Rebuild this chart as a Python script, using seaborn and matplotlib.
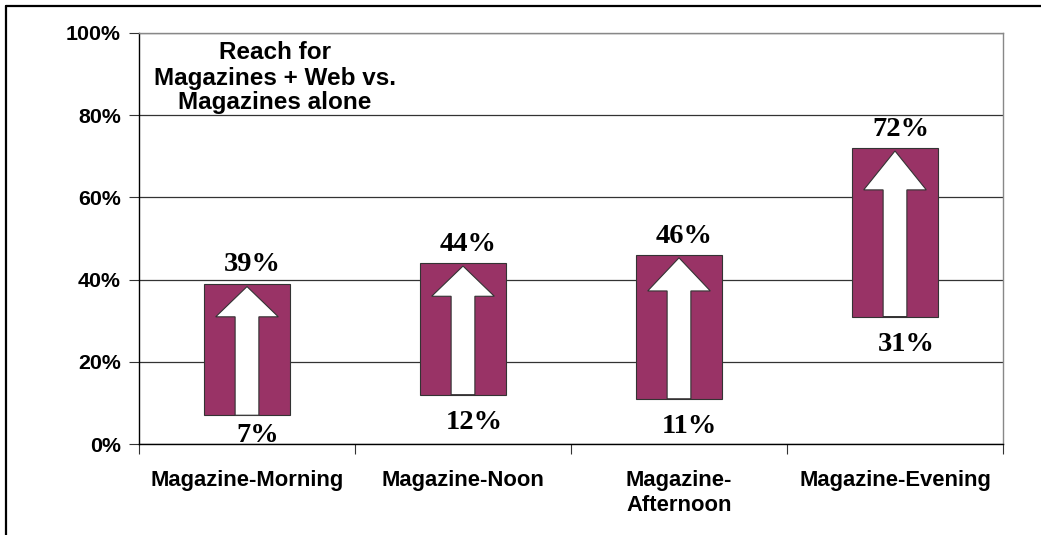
import numpy as np
import pandas as pd
import matplotlib
matplotlib.use("Agg")
import matplotlib.pyplot as plt
import seaborn as sns
from matplotlib.patches import FancyArrow
from matplotlib.lines import Line2D

categories = ["Magazine-Morning", "Magazine-Noon", "Magazine-\nAfternoon", "Magazine-Evening"]
magazines_alone = [7, 12, 11, 31]
magazines_plus_web = [39, 44, 46, 72]
y_ticks = [0, 20, 40, 60, 80, 100]
y_tick_labels = ["0%", "20%", "40%", "60%", "80%", "100%"]
title_lines = ["Reach for", "Magazines + Web vs.", "Magazines alone"]

sns.set_theme(style="white")
plt.rcParams["font.family"] = ["Liberation Sans", "DejaVu Sans"]
plt.rcParams["text.color"] = "black"
plt.rcParams["xtick.color"] = "black"
plt.rcParams["ytick.color"] = "black"
plt.rcParams["xtick.labelcolor"] = "black"
plt.rcParams["ytick.labelcolor"] = "black"

df = pd.DataFrame({"category": categories, "low": magazines_alone, "high": magazines_plus_web})
df["gain"] = df["high"] - df["low"]

W, H = 1041, 535
fig = plt.figure(figsize=(W / 100, H / 100), dpi=100)
ax = fig.add_axes([139 / W, 1 - 444 / H, (1003 - 139) / W, (444 - 33) / H])

sns.barplot(data=df, x="category", y="gain", order=categories,
            bottom=df["low"].to_numpy(), color="#993366", saturation=1,
            width=0.4, edgecolor="#333333", linewidth=0.8, ax=ax, zorder=2)

serif = ["Liberation Serif", "DejaVu Serif"]
for i, (lo, hi) in enumerate(zip(df["low"], df["high"])):
    length = hi - lo - 0.7
    ax.add_patch(FancyArrow(i, lo, 0, length, width=0.11, head_width=0.29,
                            head_length=0.235 * length, length_includes_head=True,
                            facecolor="white", edgecolor="#333333", linewidth=0.8,
                            zorder=3))
    ax.text(i + 0.025, hi + 3, f"{hi}%", ha="center", va="baseline",
            fontsize=20.5, fontweight="bold", family=serif, color="black", zorder=4)
    ax.text(i + 0.05, max(lo - 8.3, 0.6), f"{lo}%", ha="center", va="baseline",
            fontsize=20.5, fontweight="bold", family=serif, color="black", zorder=4)

ax.set_xlim(-0.5, len(categories) - 0.5)
ax.set_ylim(0, 100)
ax.set_yticks(y_ticks)
ax.set_yticklabels(y_tick_labels, fontsize=15.4, fontweight="bold", color="black")

ax.set_xticks(np.arange(len(categories) + 1) - 0.5)
ax.set_xticklabels([])
ax.set_xticks(np.arange(len(categories)), minor=True)
ax.set_xticklabels(categories, minor=True, fontsize=15.8, fontweight="bold",
                   linespacing=1.25, va="top", color="black")
ax.tick_params(axis="x", which="minor", length=0, pad=19)
ax.tick_params(axis="x", which="major", length=7, width=0.8, color="#333333",
               direction="out", bottom=True)
ax.tick_params(axis="y", length=7, width=0.8, color="#333333", direction="out",
               left=True, pad=6)
ax.set_xlabel("")
ax.set_ylabel("")

ax.yaxis.grid(True, color="#333333", linewidth=0.9)
ax.set_axisbelow(True)
for s in ["left", "bottom"]:
    ax.spines[s].set_color("black")
    ax.spines[s].set_linewidth(1.0)
for s in ["top", "right"]:
    ax.spines[s].set_color("#888888")
    ax.spines[s].set_linewidth(1.0)

title_baselines = [59, 85, 109]
for line, yb in zip(title_lines, title_baselines):
    fig.text(275 / W, 1 - yb / H, line, ha="center", va="baseline",
             fontsize=17.5, fontweight="bold", color="black")

fig.add_artist(Line2D([5.5 / W, 5.5 / W], [0, 1 - 5.5 / H], transform=fig.transFigure,
                      color="black", linewidth=1.6))
fig.add_artist(Line2D([5.5 / W, 1], [1 - 5.5 / H, 1 - 5.5 / H], transform=fig.transFigure,
                      color="black", linewidth=1.6))

fig.savefig("out.png", dpi=100)
